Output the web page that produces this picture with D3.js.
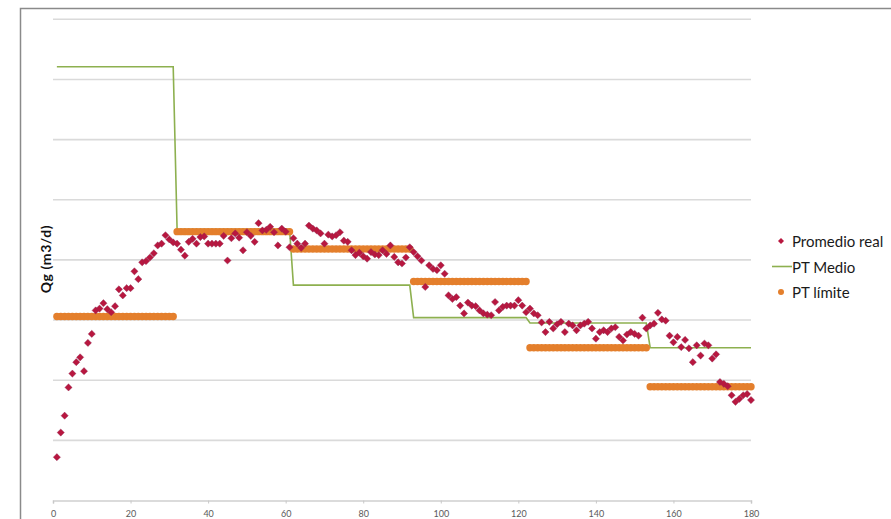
<!DOCTYPE html>
<html>
<head>
<meta charset="utf-8">
<script src="https://cdn.jsdelivr.net/npm/d3@7"></script>
<style>
  html, body { margin: 0; padding: 0; background: #fff; }
  svg { display: block; }
</style>
</head>
<body>
<svg id="chart" width="891" height="519"></svg>
<script>
// Daily average gas rate (Promedio real), days 1..180
const days = d3.range(1, 181);
const promedioReal = [
  0.72, 1.13, 1.41, 1.88, 2.11, 2.30, 2.38, 2.15, 2.62, 2.77,
  3.16, 3.19, 3.28, 3.18, 3.13, 3.23, 3.51, 3.41, 3.53, 3.53,
  3.81, 3.68, 3.96, 3.98, 4.04, 4.11, 4.24, 4.27, 4.41, 4.34,
  4.29, 4.27, 4.17, 4.07, 4.30, 4.35, 4.27, 4.38, 4.39, 4.27,
  4.27, 4.27, 4.27, 4.40, 3.99, 4.36, 4.44, 4.37, 4.16, 4.46,
  4.40, 4.30, 4.61, 4.49, 4.50, 4.55, 4.46, 4.24, 4.52, 4.47,
  4.21, 4.36, 4.27, 4.20, 4.27, 4.57, 4.52, 4.49, 4.44, 4.27,
  4.42, 4.39, 4.41, 4.46, 4.32, 4.30, 4.16, 4.08, 4.12, 4.06,
  4.02, 4.13, 4.09, 4.08, 4.16, 4.10, 4.24, 4.05, 3.96, 3.94,
  4.04, 4.21, 4.13, 4.06, 3.99, 3.55, 3.91, 3.85, 3.83, 3.91,
  3.77, 3.41, 3.35, 3.38, 3.24, 3.11, 3.29, 3.24, 3.23, 3.16,
  3.11, 3.09, 3.08, 3.30, 3.16, 3.22, 3.24, 3.24, 3.24, 3.33,
  3.24, 3.13, 3.19, 3.11, 3.08, 2.96, 2.80, 2.97, 2.86, 2.93,
  2.97, 2.80, 2.94, 2.91, 2.83, 2.91, 2.94, 2.97, 2.86, 2.69,
  2.80, 2.83, 2.80, 2.86, 2.88, 2.72, 2.66, 2.76, 2.80, 2.77,
  2.74, 3.04, 2.86, 2.91, 2.94, 3.12, 3.01, 2.99, 2.74, 2.63,
  2.72, 2.55, 2.67, 2.53, 2.30, 2.58, 2.41, 2.61, 2.58, 2.36,
  2.43, 1.97, 1.94, 1.90, 1.75, 1.64, 1.69, 1.75, 1.77, 1.67
];

// Period targets: [first day, last day, value]
const ptMedio = [
  [1, 31, 7.21],
  [32, 61, 4.51],
  [62, 92, 3.58],
  [93, 122, 3.04],
  [123, 153, 2.95],
  [154, 180, 2.54]
];
const ptLimite = [
  [1, 31, 3.06],
  [32, 61, 4.47],
  [62, 92, 4.18],
  [93, 122, 3.64],
  [123, 153, 2.54],
  [154, 180, 1.89]
];

const xTicks = [0, 20, 40, 60, 80, 100, 120, 140, 160, 180];
const yGrid = [1, 2, 3, 4, 5, 6, 7, 8];
const seriesNames = ["Promedio real", "PT Medio", "PT límite"];
const yTitle = "Qg (m3/d)";

const colors = { real: "#b8173f", medio: "#8db04f", limite: "#e47f2c" };

const svg = d3.select("#chart");

const x = d3.scaleLinear().domain([0, 180]).range([53, 751]);
const y = d3.scaleLinear().domain([0, 8]).range([500.5, 19.3]);

// rotated-square marker
const diamondPath = h => `M0,${-h}L${h},0L0,${h}L${-h},0Z`;

// outer chart frame
svg.append("rect")
  .attr("x", 20.5).attr("y", 8.5)
  .attr("width", 900).attr("height", 560)
  .attr("fill", "#fff")
  .attr("stroke", "#8a8a8a").attr("stroke-width", 1.5);

// horizontal gridlines
svg.append("g")
  .selectAll("line")
  .data(yGrid)
  .join("line")
  .attr("x1", x(0)).attr("x2", x(180))
  .attr("y1", d => y(d)).attr("y2", d => y(d))
  .attr("stroke", "#dadada").attr("stroke-width", 1.6);

// x axis
const xAxis = d3.axisBottom(x).tickValues(xTicks).tickSize(3).tickPadding(7);
const gx = svg.append("g")
  .attr("transform", `translate(0,${y(0)})`)
  .call(xAxis);
gx.select(".domain").attr("stroke", "#d0d0d0").attr("stroke-width", 1.6);
gx.selectAll(".tick line").attr("stroke", "#c8c8c8");
gx.selectAll(".tick text")
  .attr("fill", "#5a5a5a")
  .style("font-family", "Lato, 'Liberation Sans', sans-serif")
  .style("font-size", "9px");

// y title
svg.append("text")
  .attr("transform", `translate(45,259) rotate(-90)`)
  .attr("text-anchor", "middle")
  .attr("dominant-baseline", "central")
  .style("font-family", "Lato, 'Liberation Sans', sans-serif")
  .style("font-weight", "bold")
  .style("font-size", "14px")
  .style("letter-spacing", "0.6px")
  .attr("fill", "#111")
  .text(yTitle);

// PT Medio step line
const medioPts = [];
ptMedio.forEach(([a, b, v]) => { medioPts.push([a, v]); medioPts.push([b, v]); });
svg.append("path")
  .datum(medioPts)
  .attr("fill", "none")
  .attr("stroke", colors.medio)
  .attr("stroke-width", 1.6)
  .attr("d", d3.line().x(d => x(d[0])).y(d => y(d[1])));

// PT límite: one dot per day in each period
const limitePts = [];
ptLimite.forEach(([a, b, v]) => d3.range(a, b + 1).forEach(dd => limitePts.push([dd, v])));
svg.append("g")
  .selectAll("circle")
  .data(limitePts)
  .join("circle")
  .attr("cx", d => x(d[0]))
  .attr("cy", d => y(d[1]))
  .attr("r", 3.7)
  .attr("fill", colors.limite);

// Promedio real diamonds
svg.append("g")
  .selectAll("path")
  .data(days.map((d, i) => [d, promedioReal[i]]))
  .join("path")
  .attr("transform", d => `translate(${x(d[0])},${y(d[1])})`)
  .attr("d", diamondPath(3.6))
  .attr("fill", colors.real)
  .attr("stroke", "#8e2a55").attr("stroke-width", 0.4);

// legend
const lg = svg.append("g").style("font-family", "Lato, 'Liberation Sans', sans-serif").style("font-size", "15px");
const ly = [241, 266.5, 292];
lg.append("path")
  .attr("transform", `translate(781,${ly[0]})`)
  .attr("d", diamondPath(3))
  .attr("fill", colors.real);
lg.append("line")
  .attr("x1", 772).attr("x2", 792)
  .attr("y1", ly[1]).attr("y2", ly[1])
  .attr("stroke", colors.medio).attr("stroke-width", 1.6);
lg.append("circle")
  .attr("cx", 781).attr("cy", ly[2]).attr("r", 3)
  .attr("fill", colors.limite);
lg.selectAll("text")
  .data(seriesNames)
  .join("text")
  .attr("x", 792)
  .attr("y", (d, i) => ly[i])
  .attr("dominant-baseline", "central")
  .attr("fill", "#1a1a1a")
  .text(d => d);
</script>
</body>
</html>
